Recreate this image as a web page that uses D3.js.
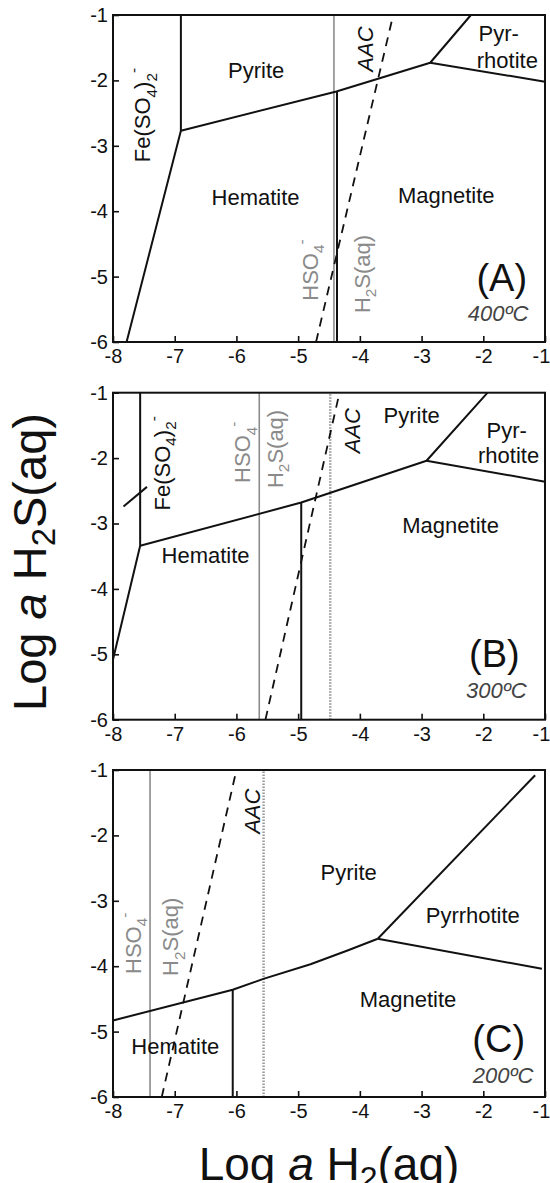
<!DOCTYPE html>
<html>
<head>
<meta charset="utf-8">
<script src="https://cdn.jsdelivr.net/npm/d3@7"></script>
<style>
  body { margin: 0; background: #fff; }
  text { font-family: "Liberation Sans", Arial, Helvetica, sans-serif; }
</style>
</head>
<body>
<svg id="chart"></svg>
<script>
// Fe-S-O stability diagrams, log a H2(aq) vs log a H2S(aq)

var xTicks = [-8, -7, -6, -5, -4, -3, -2, -1];
var yTicks = [-1, -2, -3, -4, -5, -6];
var panelTags = ["(A)", "(B)", "(C)"];
var temps = ["400ºC", "300ºC", "200ºC"];

// solid phase boundaries, polylines of [log aH2, log aH2S]
var linesA = [
  [[-7.78, -6], [-6.90, -2.77], [-6.90, -1]],
  [[-6.90, -2.77], [-4.38, -2.17], [-2.86, -1.73], [-2.20, -1]],
  [[-2.86, -1.73], [-1, -2.02]],
  [[-4.37, -2.17], [-4.37, -6]]
];
var linesB = [
  [[-8, -5.08], [-7.56, -3.34], [-7.56, -1]],
  [[-7.56, -3.34], [-4.95, -2.68], [-2.92, -2.04], [-1.93, -1]],
  [[-2.92, -2.04], [-1, -2.36]],
  [[-4.95, -2.68], [-4.95, -6]],
  [[-7.83, -2.74], [-7.45, -2.44]]
];
var linesC = [
  [[-8, -4.83], [-6.06, -4.36], [-5.55, -4.19], [-4.8, -3.97], [-4.2, -3.76], [-3.71, -3.58]],
  [[-3.71, -3.58], [-1.16, -1.08]],
  [[-3.71, -3.58], [-1.05, -4.04]],
  [[-6.06, -4.36], [-6.06, -6]]
];

// HSO4- / H2S(aq) equal activity line (grey)
var sulfateLine = [-4.42, -5.63, -7.40];
// dotted line
var dottedLine = [null, -4.48, -5.56];
// AAC dashed line, [bottom, top]
var aacLines = [
  [[-4.71, -6], [-3.46, -1]],
  [[-5.53, -6], [-4.33, -1]],
  [[-7.21, -6], [-6.00, -1]]
];

// labels: text, x, y, kind (f = field, r = rotated black, g = rotated grey, a = AAC)
var labelsA = [
  ["Pyrite", -5.68, -1.84, "f"],
  ["Pyr-", -1.75, -1.28, "f"],
  ["rhotite", -1.61, -1.69, "f"],
  ["Hematite", -5.69, -3.78, "f"],
  ["Magnetite", -2.60, -3.76, "f"],
  ["Fe(SO_4)_2^-", -7.53, -2.53, "r"],
  ["AAC", -3.92, -1.52, "a"],
  ["HSO_4^-", -4.81, -4.90, "g"],
  ["H_2S(aq)", -3.97, -4.96, "g"]
];
var labelsB = [
  ["Pyrite", -3.16, -1.34, "f"],
  ["Pyr-", -1.62, -1.57, "f"],
  ["rhotite", -1.59, -1.95, "f"],
  ["Hematite", -6.50, -3.48, "f"],
  ["Magnetite", -2.53, -3.03, "f"],
  ["Fe(SO_4)_2^-", -7.21, -2.08, "r"],
  ["AAC", -4.13, -1.58, "a"],
  ["HSO_4^-", -5.91, -1.91, "g"],
  ["H_2S(aq)", -5.38, -1.86, "g"]
];
var labelsC = [
  ["Pyrite", -4.18, -2.56, "f"],
  ["Pyrrhotite", -2.17, -3.22, "f"],
  ["Hematite", -6.99, -5.22, "f"],
  ["Magnetite", -3.22, -4.51, "f"],
  ["AAC", -5.75, -1.63, "a"],
  ["HSO_4^-", -7.68, -3.65, "g"],
  ["H_2S(aq)", -7.07, -3.55, "g"]
];
var tagPos = [[-1.70, -5.01], [-1.82, -4.98], [-1.75, -5.10]];
var tempPos = [[-1.76, -5.56], [-1.79, -5.54], [-1.68, -5.66]];

var width = 550, height = 1183;
var left = 113, right = 545, panelH = 327;
var tops = [15, 392.7, 770];

var svg = d3.select("#chart")
    .attr("width", width)
    .attr("height", height);

// write text with _x subscript and ^x superscript
function richText(sel, str, size) {
  var parts = [], i = 0;
  while (i < str.length) {
    var ch = str[i];
    if (ch === "_" || ch === "^") {
      parts.push({t: str[i + 1], k: ch});
      i += 2;
    } else {
      var j = i;
      while (j < str.length && str[j] !== "_" && str[j] !== "^") j++;
      parts.push({t: str.slice(i, j), k: ""});
      i = j;
    }
  }
  var cur = 0;
  parts.forEach(function(p) {
    var target = p.k === "_" ? 0.3 : p.k === "^" ? -0.5 : 0;
    sel.append("tspan")
        .attr("dy", ((target - cur) * size) + "px")
        .attr("font-size", p.k ? (size * 0.7) + "px" : null)
        .text(p.t);
    cur = target;
  });
}

var allLines = [linesA, linesB, linesC];
var allLabels = [labelsA, labelsB, labelsC];

tops.forEach(function(top, p) {
  var x = d3.scaleLinear().domain([-8, -1]).range([left, right]);
  var y = d3.scaleLinear().domain([-6, -1]).range([top + panelH, top]);
  var line = d3.line().x(function(d) { return x(d[0]); }).y(function(d) { return y(d[1]); });

  var g = svg.append("g").attr("class", "panel");

  // grey equal-activity line
  g.append("line")
      .attr("x1", x(sulfateLine[p])).attr("x2", x(sulfateLine[p]))
      .attr("y1", y(-6)).attr("y2", y(-1))
      .attr("stroke", "#8c8c8c")
      .attr("stroke-width", 1.6);

  if (dottedLine[p] !== null) {
    g.append("line")
        .attr("x1", x(dottedLine[p])).attr("x2", x(dottedLine[p]))
        .attr("y1", y(-6)).attr("y2", y(-1))
        .attr("stroke", "#9a9a9a")
        .attr("stroke-width", 2.5)
        .attr("stroke-dasharray", "1.5,1.5");
  }

  g.append("path")
      .datum(aacLines[p])
      .attr("d", line)
      .attr("fill", "none")
      .attr("stroke", "#111")
      .attr("stroke-width", 1.8)
      .attr("stroke-dasharray", "9,7");

  g.selectAll("path.bound")
      .data(allLines[p])
      .enter().append("path")
        .attr("class", "bound")
        .attr("d", line)
        .attr("fill", "none")
        .attr("stroke", "#111")
        .attr("stroke-width", 2)
        .attr("stroke-linejoin", "round");

  // frame
  g.append("rect")
      .attr("x", left).attr("y", top)
      .attr("width", right - left).attr("height", panelH)
      .attr("fill", "none")
      .attr("stroke", "#111")
      .attr("stroke-width", 2);

  // axes with inward ticks
  var ya = g.append("g")
      .attr("transform", "translate(" + left + ",0)")
      .call(d3.axisLeft(y).tickValues(yTicks).tickSizeInner(-6).tickSizeOuter(0)
        .tickPadding(5).tickFormat(function(d) { return String(d); }));
  var xa = g.append("g")
      .attr("transform", "translate(0," + (top + panelH) + ")")
      .call(d3.axisBottom(x).tickValues(xTicks).tickSizeInner(-6).tickSizeOuter(0)
        .tickPadding(7).tickFormat(function(d) { return String(d); }));
  [ya, xa].forEach(function(a) {
    a.select(".domain").remove();
    a.selectAll("line").attr("stroke", "#111").attr("stroke-width", 1.6);
    a.selectAll("text")
        .attr("font-family", "'Liberation Sans', Arial, sans-serif")
        .attr("font-size", "20px")
        .attr("fill", "#111");
  });
  // keep the last x label inside the page
  xa.selectAll(".tick text")
      .filter(function(d) { return d === -1; })
      .attr("dx", "-4px");

  // field and line labels
  allLabels[p].forEach(function(l) {
    var kind = l[3];
    var t = g.append("text")
        .attr("text-anchor", "middle")
        .attr("font-size", "22px")
        .attr("fill", kind === "g" ? "#8a8a8a" : "#111");
    if (kind === "f") {
      t.attr("x", x(l[1])).attr("y", y(l[2])).attr("dy", "0.36em").text(l[0]);
    } else {
      t.attr("transform", "translate(" + (x(l[1]) + 8) + "," + y(l[2]) + ") rotate(-90)");
      if (kind === "a") t.attr("font-style", "italic");
      richText(t, l[0], 22);
    }
  });

  g.append("text")
      .attr("x", x(tagPos[p][0])).attr("y", y(tagPos[p][1]))
      .attr("dy", "0.36em")
      .attr("text-anchor", "middle")
      .attr("font-size", "38px")
      .attr("fill", "#111")
      .text(panelTags[p]);

  g.append("text")
      .attr("x", x(tempPos[p][0])).attr("y", y(tempPos[p][1]))
      .attr("dy", "0.36em")
      .attr("text-anchor", "middle")
      .attr("font-size", "22px")
      .attr("font-style", "italic")
      .attr("fill", "#444")
      .text(temps[p]);
});

// axis titles
var xt = svg.append("text")
    .attr("x", (left + right) / 2)
    .attr("y", 1180)
    .attr("text-anchor", "middle")
    .attr("font-size", "46px")
    .attr("fill", "#111");
xt.append("tspan").text("Log ");
xt.append("tspan").attr("font-style", "italic").text("a");
xt.append("tspan").text(" H");
xt.append("tspan").attr("font-size", "32px").attr("dy", "9px").text("2");
xt.append("tspan").attr("dy", "-9px").text("(aq)");

var yt = svg.append("text")
    .attr("transform", "translate(46,562) rotate(-90)")
    .attr("text-anchor", "middle")
    .attr("font-size", "47px")
    .attr("fill", "#111");
yt.append("tspan").text("Log ");
yt.append("tspan").attr("font-style", "italic").text("a");
yt.append("tspan").text(" H");
yt.append("tspan").attr("font-size", "33px").attr("dy", "9px").text("2");
yt.append("tspan").attr("dy", "-9px").text("S(aq)");
</script>
</body>
</html>
